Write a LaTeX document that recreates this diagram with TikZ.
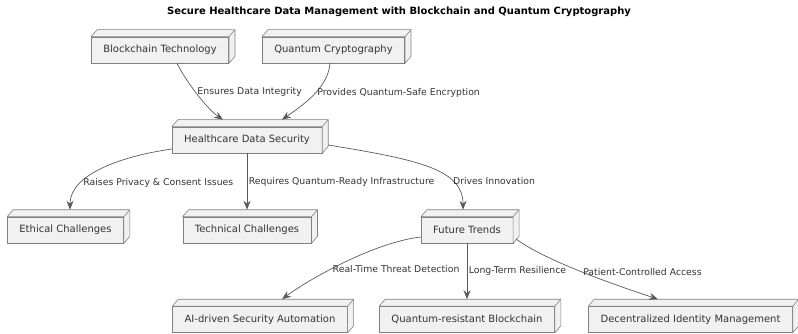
\documentclass[tikz,border=0pt]{standalone}
\usepackage{fontspec}
\setmainfont{DejaVu Sans}
\usetikzlibrary{arrows.meta,positioning}

\definecolor{boxfill}{HTML}{F1F1F1}
\definecolor{boxline}{HTML}{808080}
\definecolor{edgeline}{HTML}{5A5A5A}
\definecolor{txt}{HTML}{333333}

\begin{document}
\begin{tikzpicture}[x=1pt,y=-1pt,
  box/.style={draw=boxline,fill=boxfill,line width=.6pt,minimum height=26pt,inner xsep=12pt,inner ysep=0pt,font=\fontsize{10}{12}\selectfont,text=txt},
  face/.style={draw=boxline,fill=boxfill,line width=.6pt,line join=round},
  link/.style={draw=edgeline,line width=.7pt,-{Stealth[length=9pt,width=7pt,inset=3pt]}},
  lbl/.style={right,inner sep=1.5pt,font=\fontsize{9.3}{11}\selectfont,text=txt}]
\useasboundingbox (0,0) rectangle (798,334);

\node[font=\bfseries\fontsize{10}{12}\selectfont] (title) at (399,12) {Secure Healthcare Data Management with Blockchain and Quantum Cryptography};

% top row
\node[box] (bt) at (160,50) {Blockchain Technology};
\node[box] (qc) at (333.5,50) {Quantum Cryptography};
\node[box] (hds) at (247,140) {Healthcare Data Security};

% middle row
\node[box] (ec) at (65.5,230) {Ethical Challenges};
\node[box] (tc) at (247,230) {Technical Challenges};
\node[box] (ft) at (467,230) {Future Trends};

% bottom row
\node[box] (ai) at (260,319.5) {AI-driven Security Automation};
\node[box] (qr) at (467,319.5) {Quantum-resistant Blockchain};
\node[box] (di) at (690.5,319.5) {Decentralized Identity Management};

\foreach \n in {bt,qc,hds,ec,tc,ft,ai,qr,di} {
\draw[face] (\n.north west) -- ++(6,-7) -| ([xshift=6pt,yshift=7pt]\n.south east) -- (\n.south east) -- (\n.north east) -- cycle;
\draw[face] (\n.north east) -- ++(6,-7);
}

\draw[link] ([xshift=17pt]bt.south) .. controls +(10,20) and +(-15,-10) .. ([xshift=-24pt,yshift=7pt]hds.north) node[lbl,pos=.45] {Ensures Data Integrity};
\draw[link] ([xshift=-3.5pt]qc.south) .. controls +(-2,25) and +(20,-14) .. ([xshift=35pt,yshift=7pt]hds.north) node[lbl,pos=.45] {Provides Quantum-Safe Encryption};

\draw[link] ([yshift=-9pt]hds.west) .. controls +(-55,8) and +(0,-34) .. ([xshift=4.5pt,yshift=7pt]ec.north) node[lbl,pos=.7] {Raises Privacy \& Consent Issues};
\draw[link] (hds.south) -- ([yshift=7pt]tc.north) node[lbl,pos=.5] {Requires Quantum-Ready Infrastructure};
\draw[link] ([xshift=6pt,yshift=-5pt]hds.east) .. controls +(92,15) and +(0,-40) .. ([xshift=-4pt,yshift=7pt]ft.north) node[lbl,pos=.7] {Drives Innovation};

\draw[link] ([yshift=-7pt]ft.west) .. controls +(-45,5) and +(30,-22) .. ([xshift=22pt,yshift=7pt]ai.north) node[lbl,pos=.6] {Real-Time Threat Detection};
\draw[link] (ft.south) -- ([yshift=7pt]qr.north) node[lbl,pos=.5] {Long-Term Resilience};
\draw[link] ([xshift=3pt,yshift=-9pt]ft.east) .. controls +(30,22) and +(-45,-15) .. ([xshift=-32.5pt,yshift=7pt]di.north) node[lbl,pos=.5] {Patient-Controlled Access};
\end{tikzpicture}
\end{document}
